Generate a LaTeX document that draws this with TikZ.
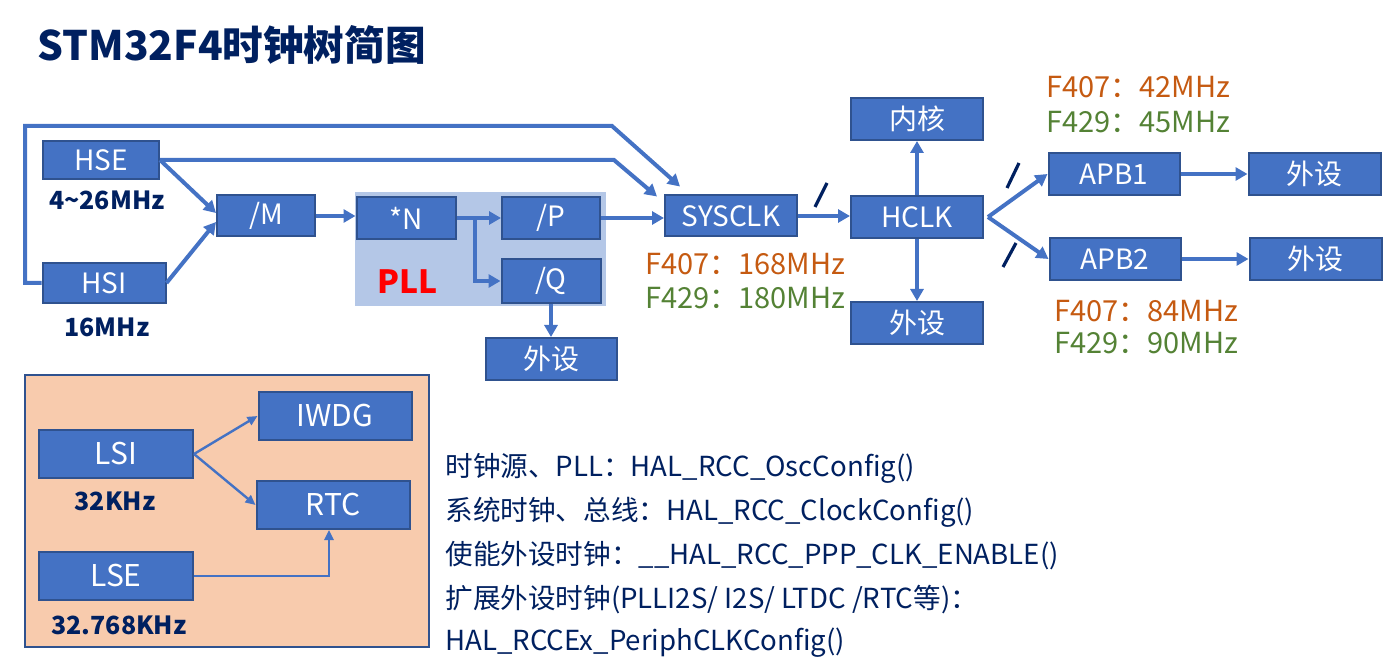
\documentclass[tikz,border=0pt]{standalone}
\usepackage{fontspec}
\setmainfont{Noto Sans CJK SC}
\usepackage{tikz}
\usetikzlibrary{arrows.meta,positioning}
\definecolor{boxblue}{HTML}{4472C4}
\definecolor{boxedge}{HTML}{2F528F}
\definecolor{pllbg}{HTML}{B4C7E7}
\definecolor{peach}{HTML}{F8CBAD}
\definecolor{navy}{HTML}{002060}
\definecolor{fqa}{HTML}{C55A11}
\definecolor{fqb}{HTML}{548235}
\definecolor{pllred}{HTML}{FF0000}

\begin{document}
\begin{tikzpicture}[x=0.5pt, y=-0.5pt,
    box/.style = {draw=boxedge, fill=boxblue, text=white, line width=1pt, inner sep=0pt,
                  minimum width=66pt, minimum height=21pt, font=\fontsize{14}{16}\selectfont},
    bigbox/.style = {box, minimum width=77pt, minimum height=24pt, font=\fontsize{15}{17}\selectfont},
    lbl/.style = {text=navy, font=\fontsize{12.5}{14}\selectfont\bfseries},
    fa/.style = {text=fqa, anchor=west, inner sep=0pt, font=\fontsize{14.5}{16}\selectfont},
    fb/.style = {text=fqb, anchor=west, inner sep=0pt, font=\fontsize{14.5}{16}\selectfont},
    api/.style = {text=navy, anchor=west, inner sep=0pt, font=\fontsize{13.8}{16}\selectfont},
    arr/.style = {-{Triangle[length=6pt,width=6.5pt]}, draw=boxblue, line width=2pt},
    thinarr/.style = {-{Triangle[length=5pt,width=4.5pt]}, draw=boxblue, line width=1.2pt},
    slash/.style = {draw=navy, line width=1.6pt}]
    \useasboundingbox (0,0) rectangle (1388,668);

    % title
    \node[text=navy, anchor=west, inner sep=0pt, font=\fontsize{20.3}{22}\selectfont\bfseries] (title) at (37,45) {STM32F4时钟树简图};

    % sources and PLL
    \node[box, minimum width=58pt, minimum height=19pt] (hse) at (101,160) {HSE};
    \node[box, minimum width=61.5pt, minimum height=20pt] (hsi) at (104,283) {HSI};
    \node[lbl] (hsef) at (107,200) {4\textasciitilde 26MHz};
    \node[lbl] (hsif) at (107,327) {16MHz};
    \node[box, minimum width=49pt, minimum height=20.5pt] (m) at (266,216) {/M};
    \fill[pllbg] (355,192) rectangle (606,306);
    \node[box, minimum width=49.5pt] (n) at (406,218) {*N};
    \node[box, minimum width=49pt] (p) at (551,218) {/P};
    \node[box, minimum width=49.5pt, minimum height=22pt] (q) at (551,281) {/Q};
    \node[text=pllred, font=\fontsize{16}{18}\selectfont\bfseries] (pll) at (408,282) {PLL};
    \node[box, minimum width=65.5pt, below=16.5pt of q] (qper) {外设};

    % system clock and buses
    \node[box, minimum height=20.5pt] (sysclk) at (731,216) {SYSCLK};
    \node[fa] (sysa) at (645,264) {F407：168MHz};
    \node[fb] (sysb) at (645,298) {F429：180MHz};
    \node[box] (hclk) at (917,217) {HCLK};
    \node[box] (core) at (917,119) {内核};
    \node[box] (hper) at (917,323) {外设};
    \node[box, minimum width=65.5pt] (apb1) at (1114,174) {APB1};
    \node[box, minimum width=65.5pt] (apb2) at (1115,259) {APB2};
    \node[box, right=33.5pt of apb1] (per1) {外设};
    \node[box, right=33.5pt of apb2] (per2) {外设};
    \node[fa] (apa) at (1046,87) {F407：42MHz};
    \node[fb] (apb) at (1046,122) {F429：45MHz};
    \node[fa] (aqa) at (1054,311) {F407：84MHz};
    \node[fb] (aqb) at (1054,343) {F429：90MHz};

    \coordinate (toplt) at (25,126);
    \coordinate (toprt) at (612,126);
    \coordinate (hsert) at (614,160);
    \coordinate (br) at (475,218);
    \draw[arr] (hsi.west) -| (toplt) -- (toprt) -- ([xshift=8pt,yshift=4pt]sysclk.north west);
    \draw[arr] (hse.east) -- (hsert) -- ([xshift=-3.5pt,yshift=-1pt]sysclk.north west);
    \draw[arr] (hse.east) -- ([yshift=1.5pt]m.west);
    \draw[arr] (hsi.east) -- ([yshift=-3pt]m.west);
    \draw[arr] (m.east) -- (m.east -| n.west);
    \draw[arr] (n.east) -- (p.west);
    \draw[arr] (br) |- (q.west);
    \draw[arr] (q.south) -- (qper.north);
    \draw[arr] (p.east) -- (p.east -| sysclk.west);
    \draw[arr] (sysclk.east) -- (sysclk.east -| hclk.west);
    \draw[arr] (hclk.north) -- (core.south);
    \draw[arr] (hclk.south) -- (hper.north);
    \draw[arr] ([xshift=2pt]hclk.east) -- (apb1.west);
    \draw[arr] ([xshift=2pt]hclk.east) -- (apb2.west);
    \draw[arr] (apb1.east) -- (per1.west);
    \draw[arr] (apb2.east) -- (per2.west);
    \draw[slash] (815,207) -- (827,183);
    \draw[slash] (1007,188) -- (1019,163);
    \draw[slash] (1003,267) -- (1016,243);

    % low speed clocks
    \filldraw[fill=peach, draw=boxedge, line width=1pt] (25,375) rectangle (429,647);
    \node[bigbox] (lsi) at (116,454) {LSI};
    \node[bigbox, minimum width=76.5pt] (iwdg) at (335,416) {IWDG};
    \node[bigbox, minimum width=76.5pt] (rtc) at (333,505) {RTC};
    \node[bigbox] (lse) at (116,576) {LSE};
    \node[lbl] (lsif) at (115,501) {32KHz};
    \node[lbl] (lsef) at (119,625) {32.768KHz};
    \draw[thinarr] (lsi.east) -- (iwdg.west);
    \draw[thinarr] (lsi.east) -- (rtc.west);
    \draw[thinarr] (lse.east) -| ([xshift=-2pt]rtc.south);

    % HAL functions
    \node[api] (osc) at (445,468) {时钟源、PLL：HAL\_RCC\_OscConfig()};
    \node[api] (clk) at (445,512) {系统时钟、总线：HAL\_RCC\_ClockConfig()};
    \node[api] (ena) at (445,556) {使能外设时钟：\_\_HAL\_RCC\_PPP\_CLK\_ENABLE()};
    \node[api] (ext) at (445,600) {扩展外设时钟(PLLI2S/ I2S/ LTDC /RTC等)：};
    \node[api] (per) at (445,643) {HAL\_RCCEx\_PeriphCLKConfig()};
\end{tikzpicture}
\end{document}
